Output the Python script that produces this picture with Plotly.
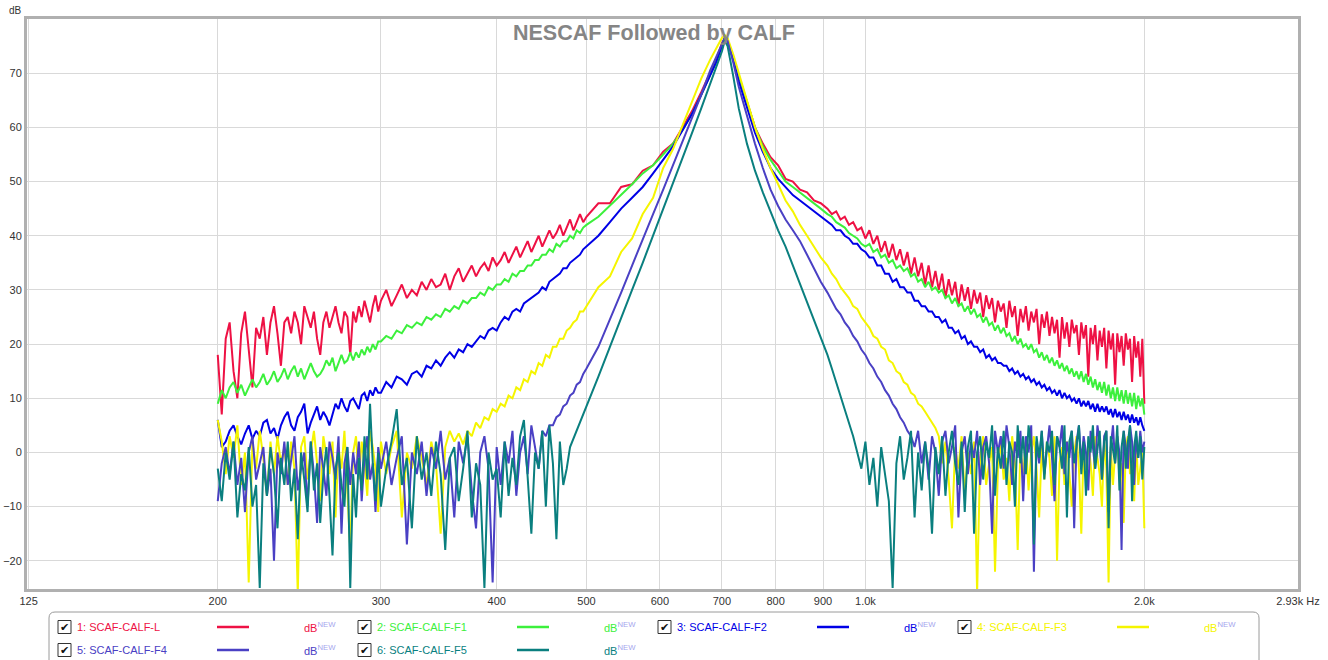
import math
import plotly.graph_objects as go

# ---------------- data ----------------
freq_hz = (
    [200, 202, 204, 206, 208, 210, 212, 214, 216, 218,
     220, 222, 224, 226, 228, 230, 232, 234, 236, 238,
     240, 242, 244, 246, 248, 250, 252, 254, 256, 258,
     260, 262, 264, 266, 268, 270, 272, 274, 276, 278,
     280, 282, 284, 286, 288, 290, 292, 294, 296, 298]
    + [300, 304, 308, 312, 316, 320, 324, 328, 332, 336,
       340, 344, 348, 352, 356, 360, 364, 368, 372, 376,
       380, 384, 388, 392, 396, 400, 404, 408, 412, 416,
       420, 424, 428, 432, 436, 440, 444, 448, 452, 456,
       460, 464, 468, 472, 476, 480, 484, 488, 492, 496]
    + [500, 515, 530, 545, 560, 575, 590, 605, 620, 635,
       650, 665, 680, 690, 700, 705, 710, 720, 730, 745,
       760, 775, 790, 805, 820, 835, 850, 865, 880, 895]
    + [910, 920, 930, 940, 950, 960, 970, 980, 990]
    + [1000, 1010, 1020, 1030, 1040, 1050, 1060, 1070, 1080, 1090,
       1100, 1110, 1120, 1130, 1140, 1150, 1160, 1170, 1180, 1190,
       1200, 1210, 1220, 1230, 1240, 1250, 1260, 1270, 1280, 1290,
       1300, 1310, 1320, 1330, 1340, 1350, 1360, 1370, 1380, 1390,
       1400, 1410, 1420, 1430, 1440, 1450, 1460, 1470, 1480, 1490,
       1500, 1510, 1520, 1530, 1540, 1550, 1560, 1570, 1580, 1590,
       1600, 1610, 1620, 1630, 1640, 1650, 1660, 1670, 1680, 1690,
       1700, 1710, 1720, 1730, 1740, 1750, 1760, 1770, 1780, 1790,
       1800, 1810, 1820, 1830, 1840, 1850, 1860, 1870, 1880, 1890,
       1900, 1910, 1920, 1930, 1940, 1950, 1960, 1970, 1980, 1990,
       2000]
)

scaf_calf_l = (
    [18, 7, 21, 24, 15, 10, 22, 26, 19, 12,
     23, 21, 25, 18, 24, 27, 22, 16, 24, 25,
     22, 26, 24, 20, 27, 25, 23, 26, 21, 18,
     24, 26, 23, 25, 27, 24, 22, 26, 25, 18,
     26, 24, 27, 25, 28, 26, 24, 27, 29, 26]
    + [28, 30, 27, 29, 31, 28.5, 30, 29, 31.5, 30,
       32, 30.5, 31, 33, 30, 32.5, 34, 31.5, 33, 34.5,
       32.5, 34, 35, 33.5, 36, 34.5, 35.5, 37, 35, 36.5,
       38, 36, 37.5, 39, 37, 38.5, 40, 38, 39.5, 41,
       39.5, 40.5, 42, 40, 41.5, 43, 41, 42.5, 44, 42.5]
    + [43.5, 46, 46, 49, 49.5, 52, 53, 55.5, 57, 60,
       63, 66.5, 70, 72.5, 75.5, 76.5, 76, 73, 69.5, 64.5,
       60, 57, 54.5, 53, 50.5, 50, 48.5, 48, 46.5, 46]
    + [45, 44, 44.5, 43, 43.5, 42, 42.5, 41, 41.5]
    + [39.5, 41, 38.5, 40, 37, 39, 36, 38.5, 35.5, 37.5,
       34.5, 37, 33, 36, 32.5, 35, 31, 34.5, 30.5, 33.5,
       30, 33, 28.5, 32, 29, 31.5, 27, 31, 28, 30.5,
       26.5, 30, 27.5, 29.5, 25, 29, 26.5, 28.5, 24, 28,
       26, 27.5, 23, 28, 25, 27, 21.5, 26.5, 24, 27,
       22.5, 26, 24, 26.5, 20, 25.5, 23, 26, 21.5, 25,
       22, 24.5, 17.5, 25, 21, 24, 19.5, 24.5, 22, 23.5,
       18, 24, 21, 23.5, 14, 23, 20, 23.5, 17, 22.5,
       19.5, 23, 15.5, 22.5, 19, 22, 12.5, 22, 18.5, 21.5,
       16, 22, 19, 21, 13, 21.5, 17.5, 20.5, 14, 21,
       9]
)

scaf_calf_f1 = (
    [9, 11.5, 10, 12, 13, 11, 12.5, 10.5, 12, 13.5,
     12, 13, 14.5, 12.5, 13.5, 15, 13, 14, 15.5, 13.5,
     15, 16, 14, 15.5, 13.5, 15, 16.5, 15, 14, 14.5,
     15.5, 17, 16, 17.5, 15, 16.5, 18, 16.5, 17, 18.5,
     17, 18.5, 17.5, 19, 18, 19.5, 18.5, 20, 19, 20.5]
    + [20.5, 21.5, 21, 22.5, 22, 23.5, 23, 24, 23.5, 25,
       24.5, 25.5, 25, 26.5, 26, 27, 26.5, 28, 27.5, 28.5,
       28.5, 29.5, 29, 30.5, 30, 31, 31, 32, 31.5, 33,
       32.5, 33.5, 33.5, 34.5, 34.5, 35.5, 35.5, 36.5, 36.5, 37.5,
       37, 38.5, 38, 39, 39, 40, 39.5, 41, 40.5, 41.5]
    + [42, 43.5, 45.5, 47.5, 49.5, 51.5, 53, 55, 57, 59.5,
       62.5, 66, 69.5, 72, 75, 76.5, 76, 73, 69.5, 64.5,
       60, 56.5, 54, 52, 50, 49, 48, 47, 46, 45]
    + [44, 43.5, 42.5, 42, 41.5, 40.5, 40, 39.5, 38.5]
    + [38, 38.5, 37, 37.5, 36, 36.5, 35, 35.5, 34, 34.5,
       33.5, 34, 32.5, 33, 31.5, 32, 30.5, 31.5, 30, 30.5,
       29.5, 30, 28.5, 29, 27.5, 28.5, 27, 27.5, 26, 27,
       25.5, 26.5, 25, 25.5, 24, 25, 23.5, 24, 22.5, 23.5,
       22, 23, 21.5, 22, 20.5, 21.5, 20, 21, 19.5, 20,
       19, 20, 18.5, 19, 17.5, 18.5, 17, 18, 16.5, 17.5,
       16, 17, 15.5, 16.5, 15, 16, 14.5, 15.5, 14, 15,
       13.5, 15, 13, 14.5, 12.5, 14, 12, 13.5, 11.5, 13,
       11, 13, 10.5, 12.5, 10, 12, 9.5, 12, 9.5, 11.5,
       9, 11.5, 9, 11, 8.5, 11, 8, 10.5, 8.5, 10,
       7]
)

scaf_calf_f2 = (
    [6, 1, 2, 4, 5, 3, 1.5, 3.5, 5, 2.5,
     4, 3, 5.5, 6, 3.5, 4.5, 2.5, 5, 6.5, 7.5,
     5, 4, 6.5, 7.5, 9, 3.5, 5.5, 7, 8.5, 6,
     7.5, 6.5, 5, 7, 9, 8, 10, 8.5, 7.5, 9.5,
     10, 9, 8, 10.5, 11, 9.5, 11.5, 10.5, 12, 11]
    + [11, 13, 12, 14, 13.5, 12.5, 14.5, 15, 14, 16,
       15.5, 17, 16, 17.5, 18.5, 17.5, 19, 18.5, 20, 19.5,
       20.5, 21.5, 21, 22.5, 23, 22.5, 24, 25, 24.5, 26,
       26.5, 26, 27.5, 28, 28.5, 29, 29.5, 30.5, 30, 31.5,
       32, 32.5, 33, 34, 34, 35, 35.5, 36, 36.5, 37.5]
    + [38, 40, 42.5, 45, 47, 49, 51.5, 54, 56.5, 59.5,
       62.5, 66, 69.5, 72, 75, 76.5, 76, 72.5, 68.5, 63.5,
       59, 55.5, 52.5, 50.5, 49, 47.5, 46.5, 45.5, 44.5, 43.5]
    + [42.5, 42, 41, 41, 40, 39.5, 38.5, 38.5, 37.5]
    + [37, 36, 36, 34.5, 34.5, 33, 33, 31.5, 32, 30.5,
       30.5, 29.5, 29.5, 28, 28, 27, 27, 26, 26, 25,
       25, 24, 24.5, 23, 23, 22, 22.5, 21, 21.5, 20,
       20.5, 19.5, 19.5, 18.5, 19, 17.5, 18, 17, 17.5, 16.5,
       16.5, 16, 16, 15, 15.5, 14.5, 15, 14, 14.5, 13.5,
       14, 13, 13.5, 12.5, 13, 12, 12.5, 11.5, 12, 11,
       11.5, 10.5, 11.5, 10, 11, 10, 10.5, 9.5, 10, 9,
       10, 8.5, 9.5, 8.5, 9.5, 8, 9, 7.5, 9, 7.5,
       8.5, 7.5, 8.5, 7, 8, 6.5, 8, 6.5, 7.5, 6,
       7.5, 6, 7, 5.5, 7, 5.5, 6.5, 5, 6.5, 5,
       4]
)

scaf_calf_f3 = (
    [6, 2, -4, 3, -1, 5, -6, 0, -24, 2,
     -3, 4, -1, -8, 2, -4, 3, -2, 1, -6,
     2, -3, -26, 1, 3, -5, 0, 4, -2, -9,
     3, -1, -4, 2, -12, 1, -3, 4, -6, -18,
     0, 3, -5, 2, -2, -8, 4, 1, -3, -11]
    + [2, -4, 1, 4, -12, 0, -3, 3, -1, -6,
       2, -2, -15, 1, 4, 2, 3.5, 1.5, 4, 3,
       5.5, 4.5, 6.5, 6, 8, 7.5, 9, 8.5, 10.5, 10,
       12, 11.5, 13.5, 13, 15, 14.5, 16.5, 16, 18, 17.5,
       19.5, 19.5, 21, 21, 22.5, 23, 24, 24.5, 26, 26]
    + [27, 30.5, 32.5, 37, 39.5, 44, 47, 52.5, 56, 60.5,
       65, 69, 72.5, 74.5, 76.5, 77, 76.5, 73.5, 70, 65,
       60, 56, 52.5, 49.5, 46.5, 44.5, 42, 40, 38, 36]
    + [34.5, 33, 32, 30.5, 29.5, 28.5, 27, 26.5, 25]
    + [24, 23, 21.5, 21, 19.5, 19, 17, 16.5, 15, 14.5,
       13, 12.5, 11, 10.5, 9, 8.5, 7.5, 6.5, 5.5, 4.5,
       3, -2, 2, -5, -14, 1, -3, 3, -8, 0,
       -4, 2, -26, -1, 3, -6, -2, 1, -22, -3,
       2, -5, -1, -9, 3, -2, -18, 1, -4, 2,
       -7, 0, 3, -3, -12, 1, -5, 2, -1, -8,
       3, -20, -2, 1, -6, 2, -4, -10, 0, 3,
       -3, -15, 1, -5, 2, -2, -8, 3, -1, -4,
       -10, 2, -3, -24, 1, -6, 0, 3, -5, -2,
       -13, 1, 3, -4, -1, -9, 2, -6, -3, 0,
       -14]
)

scaf_calf_f4 = (
    [-9, -2, 1, -4, 2, -6, -1, -11, 0, 3,
     -5, -2, 1, -8, -3, -20, 0, -4, 2, -6,
     -1, 3, -7, -3, 0, -10, 2, -4, -13, 1,
     -3, -8, 2, -1, -5, 3, -15, -2, 1, -6,
     0, -4, 2, -9, -1, 3, -5, -2, -11, 1]
    + [-3, 2, -6, -1, 3, -17, 0, -4, 2, -8,
       1, -3, 4, -5, -1, -12, 2, -2, 3, -7,
       -14, 0, 3, -3, -24, 1, -6, 2, -2, 4,
       -8, 0, 3, -4, 5, 1, -3, 4, 3, 5,
       5, 6.5, 7, 8.5, 9, 10.5, 11, 12.5, 13, 14.5]
    + [15.5, 19.5, 24.5, 29.5, 34.5, 39.5, 44, 48.5, 53, 57.5,
       62, 66, 70.5, 73, 75.5, 76.5, 76, 72, 67.5, 62,
       57, 52.5, 48.5, 45.5, 43, 41, 39, 36.5, 34, 31.5]
    + [29.5, 28, 26.5, 25.5, 24, 23, 21.5, 20.5, 19]
    + [18, 16.5, 15.5, 14, 13, 11.5, 10.5, 9, 8, 6.5,
       5.5, 4, 3, 1, 4, -2, 2, -5, 3, 0,
       -8, 2, 4, -2, 1, 5, -12, 0, 3, -4,
       2, -1, 4, -6, 1, 3, -2, -15, 4, 0,
       3, -3, 5, 1, -6, 2, -1, 4, -9, 3,
       0, 5, -22, 2, -2, 4, -4, 1, 5, -1,
       -9, 3, 1, 5, -4, 2, -1, 4, -14, 2,
       5, -2, 3, 0, -7, 4, 1, -3, 5, 2,
       -5, 3, 4, -11, 1, 5, -2, 3, 0, -18,
       4, 1, -3, 5, 2, -6, 3, -1, 4, 0,
       2]
)

scaf_calf_f5 = (
    [-3, -9, 0, -5, 2, -12, -4, -7, 1, -10,
     -6, -25, -2, -8, 1, -4, -14, -1, -6, 2,
     -9, -3, -16, 0, -5, -11, 2, -7, -2, -13,
     -4, 1, -8, -19, -3, 0, -6, -10, 1, -25,
     -4, -12, -1, -7, 3, -5, 9, -2, -9, 0]
    + [-10, -3, 2, 8, -6, -1, -14, 3, -5, 0,
       -8, 2, -4, -18, -1, 1, -9, -3, 4, -12,
       -2, -6, -25, 0, -5, -3, -12, 2, -8, -1,
       -6, 3, 6, -4, -15, 0, -3, 4, -10, 5,
       -2, -16, 2, -6, -3, 1, 2.5, 4, 5.5, 7]
    + [8.5, 14, 19.5, 25, 30, 35, 40, 45, 49.5, 54.5,
       59, 63.5, 68, 71, 74, 76, 75, 69.5, 63.5, 57,
       52, 48, 44.5, 41, 38, 34.5, 31, 27.5, 24.5, 21]
    + [18, 15.5, 13, 10.5, 8, 5.5, 3, 0, -3]
    + [2, -6, -1, -10, 1, -4, -9, -25, -2, 3,
       -5, -1, 4, -12, 0, -7, 2, -3, -15, 1,
       -4, 3, -8, 0, 4, -2, -6, 2, -11, 1,
       4, -15, 0, 3, -5, 2, -1, 5, -8, 1,
       -3, 4, -6, 2, 0, -10, 5, -2, 3, -4,
       5, 1, -17, 3, -1, 4, -5, 2, 0, 4,
       -6, 3, 1, -3, 5, -12, 2, 4, -2, 1,
       5, -4, 2, -8, 3, 0, 5, -3, 1, 4,
       -5, 2, 4, -14, 3, 0, -2, 5, -7, 1,
       4, -3, 2, 5, -9, 1, 4, -1, 3, -5,
       1]
)

series_names = ["1: SCAF-CALF-L", "2: SCAF-CALF-F1", "3: SCAF-CALF-F2",
                "4: SCAF-CALF-F3", "5: SCAF-CALF-F4", "6: SCAF-CALF-F5"]
series_values = [scaf_calf_l, scaf_calf_f1, scaf_calf_f2,
                 scaf_calf_f3, scaf_calf_f4, scaf_calf_f5]
series_colors = ["#ee1144", "#3cf03c", "#0000e6", "#f5f500", "#4a40c4", "#0a7f7f"]

x_tick_vals = [125, 200, 300, 400, 500, 600, 700, 800, 900, 1000, 2000, 2930]
x_tick_text = ["125", "200", "300", "400", "500", "600", "700", "800", "900",
               "1.0k", "2.0k", "2.93k Hz"]
y_tick_vals = [-20, -10, 0, 10, 20, 30, 40, 50, 60, 70]

# ---------------- layout geometry (window pixels) ----------------
W, H = 1328, 660
L, R, T, B = 27, 1298, 19, 589


def px(x):
    return (x - L) / (R - L)


def py(y):
    return (B - y) / (B - T)


fig = go.Figure()
for name, vals, color in zip(series_names, series_values, series_colors):
    fig.add_trace(go.Scatter(x=freq_hz, y=vals, mode="lines", name=name,
                             line=dict(color=color, width=2), showlegend=False,
                             hoverinfo="skip"))

font_family = "Liberation Sans, Arial, sans-serif"
fig.update_layout(
    width=W, height=H, autosize=False,
    margin=dict(l=L, r=W - R, t=T, b=H - B, pad=0),
    paper_bgcolor="white", plot_bgcolor="white",
    font=dict(family=font_family, size=11, color="#333333"),
    showlegend=False,
)
fig.update_xaxes(
    type="log", range=[math.log10(124.5), math.log10(2930)],
    tickmode="array", tickvals=x_tick_vals, ticktext=x_tick_text,
    showgrid=True, gridcolor="#d9d9d9", gridwidth=1,
    showline=True, linecolor="#b0b0b0", linewidth=3, mirror=True,
    ticks="", zeroline=False, automargin=False,
    tickfont=dict(size=11, color="#333333"),
)
fig.update_yaxes(
    range=[-25.2, 80.0], tickmode="array", tickvals=y_tick_vals,
    showgrid=True, gridcolor="#d9d9d9", gridwidth=1,
    showline=True, linecolor="#b0b0b0", linewidth=3, mirror=True,
    ticks="", zeroline=False, automargin=False,
    tickfont=dict(size=11, color="#333333"),
)

annotations = []
shapes = []

annotations.append(dict(
    x=px(654), y=py(33), xref="paper", yref="paper", showarrow=False,
    text="<b>NESCAF Followed by CALF</b>", xanchor="center", yanchor="middle",
    font=dict(family=font_family, size=21.5, color="#858585")))
annotations.append(dict(
    x=px(16), y=py(11), xref="paper", yref="paper", showarrow=False,
    text="dB", xanchor="center", yanchor="middle",
    font=dict(family=font_family, size=10, color="#333333")))

# legend box (rounded top corners, runs off the bottom of the page)
bx0, bx1, by0, by1, rad = 49, 1259, 612, 672, 6
path = (f"M {px(bx0)},{py(by1)} L {px(bx0)},{py(by0 + rad)} "
        f"Q {px(bx0)},{py(by0)} {px(bx0 + rad)},{py(by0)} "
        f"L {px(bx1 - rad)},{py(by0)} "
        f"Q {px(bx1)},{py(by0)} {px(bx1)},{py(by0 + rad)} "
        f"L {px(bx1)},{py(by1)}")
shapes.append(dict(type="path", path=path, xref="paper", yref="paper",
                   line=dict(color="#9a9a9a", width=1)))

for i, (name, color) in enumerate(zip(series_names, series_colors)):
    col, row = i % 4, i // 4
    x0 = 58 + 300 * col
    yc = 627 + 23 * row
    shapes.append(dict(type="rect", xref="paper", yref="paper",
                       x0=px(x0), x1=px(x0 + 13), y0=py(yc + 6.5), y1=py(yc - 6.5),
                       line=dict(color="#333333", width=1), fillcolor="white"))
    annotations.append(dict(x=px(x0 + 6.5), y=py(yc), xref="paper", yref="paper",
                            showarrow=False, text="\u2714", xanchor="center",
                            yanchor="middle",
                            font=dict(family="DejaVu Sans", size=11, color="#111111")))
    annotations.append(dict(x=px(x0 + 17), y=py(yc), xref="paper", yref="paper",
                            showarrow=False, text=name, xanchor="left", yanchor="middle",
                            font=dict(family=font_family, size=11, color=color)))
    shapes.append(dict(type="line", xref="paper", yref="paper",
                       x0=px(x0 + 159), x1=px(x0 + 191), y0=py(yc), y1=py(yc),
                       line=dict(color=color, width=2.5)))
    annotations.append(dict(x=px(x0 + 244), y=py(yc), xref="paper", yref="paper",
                            showarrow=False,
                            text=(f"<span style='color:{color}'>dB</span>"
                                  f"<sup><span style='color:#a6a6ee'>NEW</span></sup>"),
                            xanchor="left", yanchor="middle",
                            font=dict(family=font_family, size=11, color=color)))

fig.update_layout(annotations=annotations, shapes=shapes)
fig.write_html(
    "out.html",
    config={"displayModeBar": False},
    post_script="document.body.style.margin='0px';document.body.style.overflow='hidden';",
)
